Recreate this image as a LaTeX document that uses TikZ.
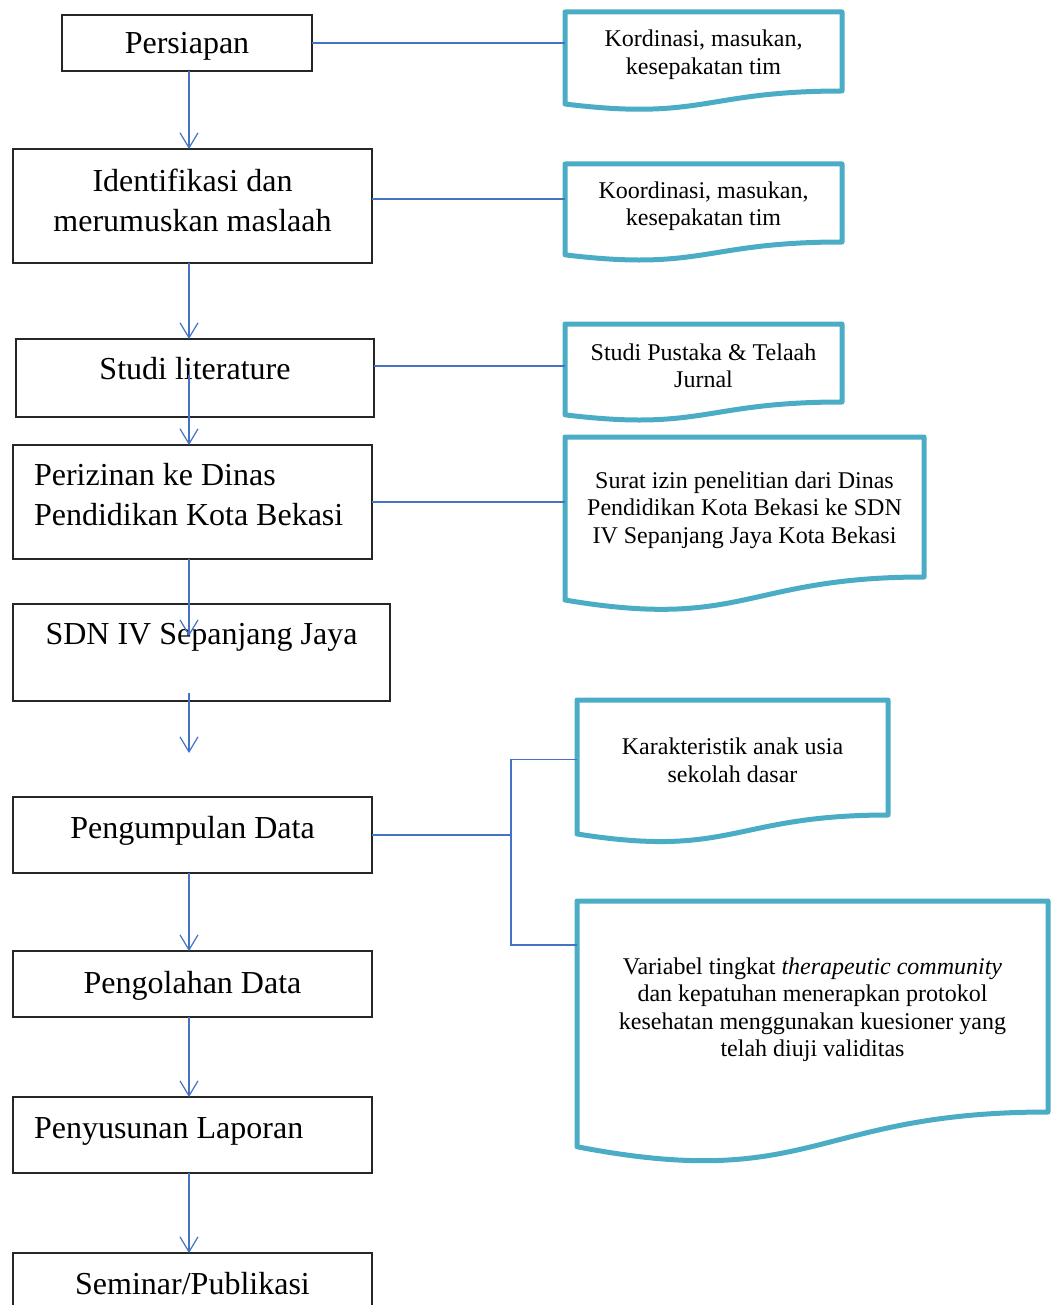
\documentclass[tikz,border=0pt]{standalone}
\usepackage{fontspec}
\setmainfont{Liberation Serif}
\usetikzlibrary{arrows.meta,calc}
\definecolor{linkblue}{HTML}{4472C4}
\definecolor{docteal}{HTML}{4BACC6}
\tikzset{
  stepbox/.style={draw=black!85, line width=0.6pt, rectangle, anchor=north west,
    inner sep=0pt, outer sep=0pt, font=\fontsize{16}{20}\selectfont},
  widebox/.style={stepbox, minimum width=179.5pt},
  lift/.style={text height=11pt, text depth=#1},
  docnode/.style={rectangle, anchor=north west, inner sep=0pt, outer sep=0pt,
    align=center, font=\fontsize{12}{13.75}\selectfont},
  docline/.style={draw=docteal, line width=2.5pt, line join=round},
  link/.style={draw=linkblue, line width=0.6pt},
  flow/.style={link, -{Straight Barb[length=7.5pt,width=9pt]}},
}
% the drawn outline sits 3px above the text node
\newcommand{\docshape}[1]{
    \draw[docline] ($(#1.south east)+(0,-3)$) -- ($(#1.north east)+(0,-3)$) -- ($(#1.north west)+(0,-3)$)
    -- ($(#1.south west)!-0.1646!(#1.north west)+(0,-3)$)
    .. controls ($(#1.south)!-0.3803!(#1.north)+(0,-3)$) and ($(#1.south)+(0,-3)$) .. ($(#1.south east)+(0,-3)$) -- cycle;
}
\begin{document}
\begin{tikzpicture}[x=0.5pt,y=-0.5pt]
    \useasboundingbox (0,0) rectangle (1056,1305);
    \clip (0,0) rectangle (1056,1305);
    % alur penelitian
    \node[stepbox, minimum width=125pt, minimum height=28pt, lift=0pt] (persiapan) at (62,15) {Persiapan};
    \node[widebox, minimum height=57pt, text width=179.5pt, align=flush center, lift=25.9pt] (ident) at (13,149)
        {Identifikasi dan\\merumuskan maslaah};
    \node[stepbox, minimum width=179pt, minimum height=39pt, lift=9.5pt] (studi) at (16,339) {Studi literature};
    \node[widebox, minimum height=57pt, text width=158.5pt, inner xsep=10.5pt, align=flush left, lift=27.4pt] (izin) at (13,445)
        {Perizinan ke Dinas\\Pendidikan Kota Bekasi};
    \node[stepbox, minimum width=188.5pt, minimum height=48.5pt, lift=19pt] (sdn) at (13,604) {SDN IV Sepanjang Jaya};
    \node[widebox, minimum height=38pt, lift=7.5pt] (kumpul) at (13,797) {Pengumpulan Data};
    \node[widebox, minimum height=33pt, lift=2pt] (olah) at (13,951) {Pengolahan Data};
    \node[widebox, minimum height=38pt, text width=158.5pt, inner xsep=10.5pt, align=flush left, lift=7.5pt] (susun) at (13,1097)
        {Penyusunan Laporan};
    \node[widebox, minimum height=38pt, lift=8pt] (seminar) at (13,1253) {Seminar/Publikasi};

    % dokumen keluaran
    \node[docnode, minimum width=138.5pt, minimum height=39.5pt] (d1) at (565,15) {Kordinasi, masukan,\\kesepakatan tim};
    \node[docnode, minimum width=138.5pt, minimum height=39pt] (d2) at (565,167) {Koordinasi, masukan,\\kesepakatan tim};
    \node[docnode, minimum width=138.5pt, minimum height=39pt] (d3) at (565,327) {Studi Pustaka \& Telaah\\Jurnal};
    \node[docnode, minimum width=179.5pt, minimum height=70pt] (d4) at (565,440)
        {Surat izin penelitian dari Dinas\\Pendidikan Kota Bekasi ke SDN\\IV Sepanjang Jaya Kota Bekasi};
    \node[docnode, minimum width=155.5pt, minimum height=57.5pt] (d5) at (577,703) {Karakteristik anak usia\\sekolah dasar};
    \node[docnode, minimum width=235.5pt, minimum height=105.5pt] (d6) at (577,904)
        {Variabel tingkat \textit{therapeutic community}\\dan kepatuhan menerapkan protokol\\kesehatan menggunakan kuesioner yang\\telah diuji validitas};
    \foreach \d in {d1,d2,d3,d4,d5,d6}
        {\docshape{\d}}

    % panah
    \coordinate (spine) at (189,0);
    \draw[flow] (spine |- persiapan.south) -- (spine |- ident.north);
    \draw[flow] (spine |- ident.south) -- (spine |- studi.north);
    \draw[flow] ($(spine |- studi.center)+(0,-3)$) -- (spine |- izin.north);
    \draw[flow] (spine |- izin.south) -- ($(spine |- sdn.north)+(0,32)$);
    \coordinate (gap) at ($(spine |- kumpul.north)+(0,-44)$);
    \draw[flow] ($(spine |- sdn.south)+(0,-8)$) -- (gap);
    \draw[flow] (spine |- kumpul.south) -- (spine |- olah.north);
    \draw[flow] (spine |- olah.south) -- (spine |- susun.north);
    \draw[flow] (spine |- susun.south) -- (spine |- seminar.north);

    \draw[link] (persiapan.east) -- (persiapan.east -| d1.west);
    \draw[link] ($(ident.east)+(0,-7)$) -- ($(ident.east -| d2.west)+(0,-7)$);
    \draw[link] (d3.west -| studi.east) -- (d3.west);
    \draw[link] (izin.east) -- (izin.east -| d4.west);
    \coordinate (fork) at ($(kumpul.east)+(139,0)$);
    \coordinate (tap) at ($(d6.north west)+(0,41)$);
    \draw[link] (kumpul.east) -- (fork);
    \draw[link] ($(d5.west)+(0,-1)$) -| (fork) |- (tap);
\end{tikzpicture}
\end{document}
